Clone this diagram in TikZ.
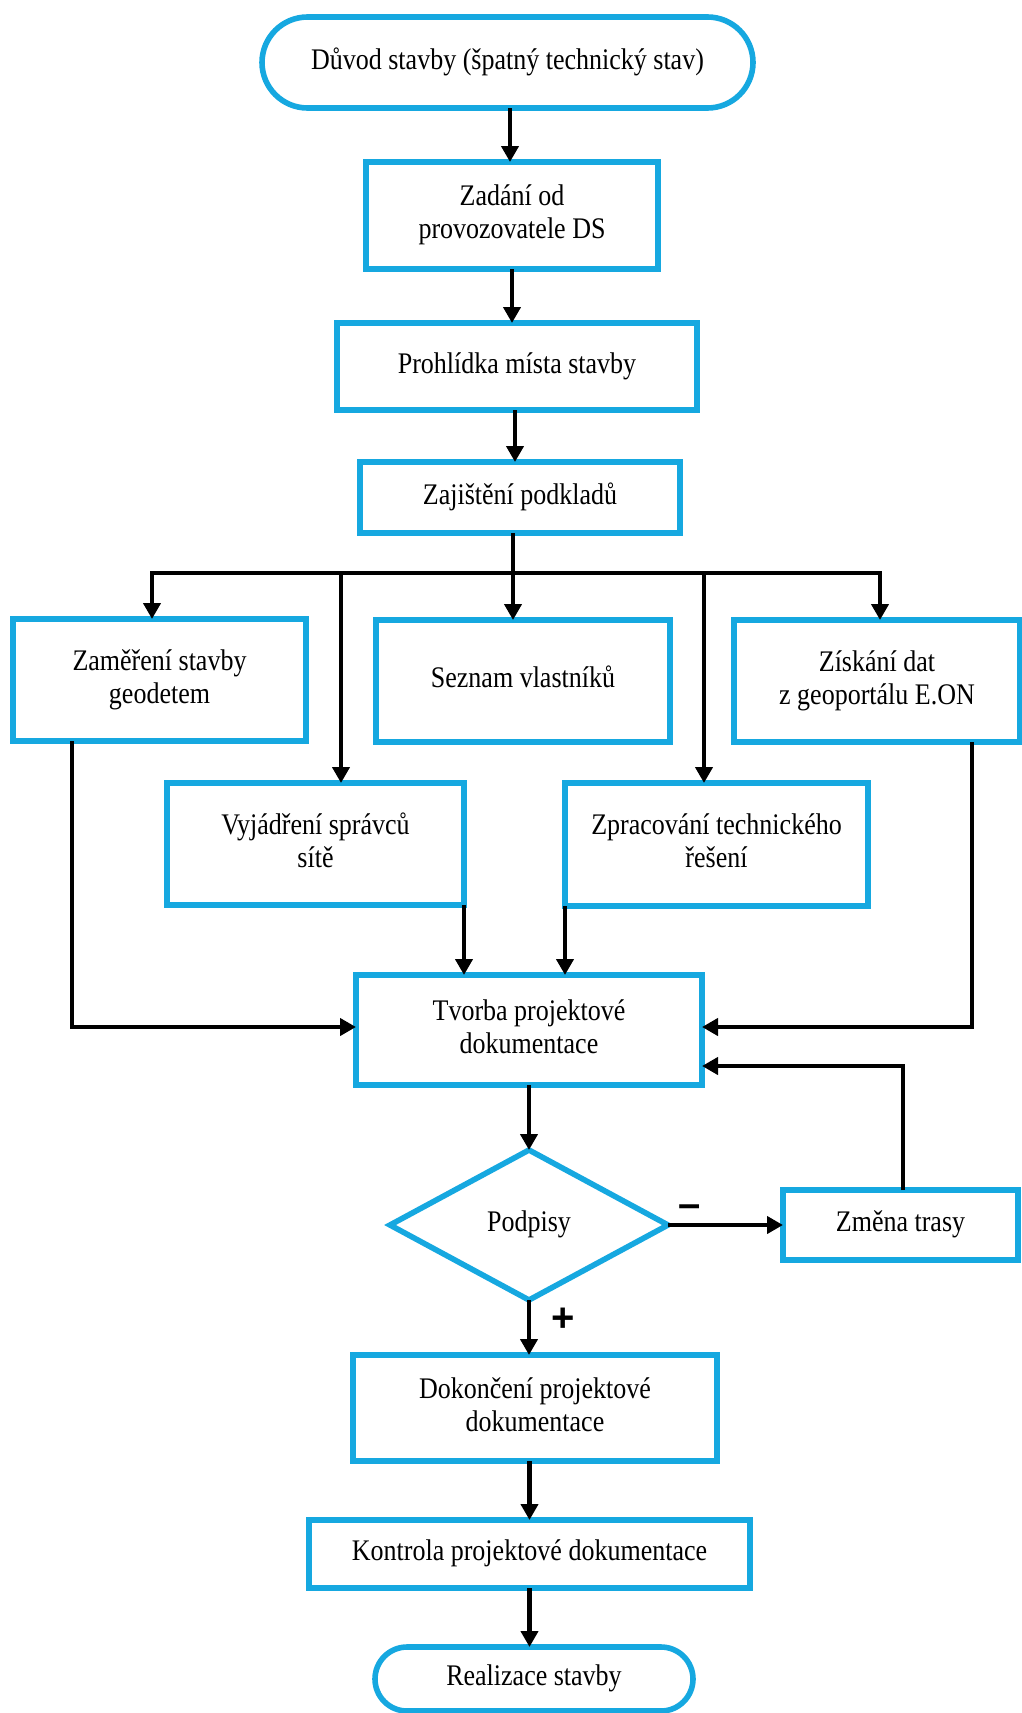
\documentclass[tikz,border=0pt]{standalone}
\usepackage{fontspec}
\usepackage{graphicx}
\setmainfont{Liberation Serif}
\newfontfamily\signfont{Liberation Sans}
\usetikzlibrary{arrows.meta,shapes.geometric}
\definecolor{flowblue}{RGB}{22,168,224}
\newcommand{\stretchtxt}[1]{\scalebox{1}[1.15]{\begin{tabular}{@{}c@{}}#1\end{tabular}}}
\tikzset{
  box/.style={draw=flowblue, line width=2.8pt, fill=white, inner sep=0pt, outer sep=0pt,
    align=center, font=\fontsize{13}{14.5}\selectfont},
  term/.style={box, rounded corners=#1},
  dec/.style={box, diamond},
  arr/.style={line width=2.3pt, -{Triangle[length=8pt,width=8.5pt]}},
  ln/.style={line width=2.3pt},
  sign/.style={font=\signfont\bfseries\fontsize{20}{20}\selectfont, inner sep=0pt, anchor=base}
}
\begin{document}
\begin{tikzpicture}[x=0.5pt,y=-0.5pt]
\useasboundingbox (0,0) rectangle (1022,1713);
% nodes
\node[term=22.75pt, minimum width=245.5pt, minimum height=45.5pt] (start) at (507.5,62.5) {\stretchtxt{Důvod stavby (špatný technický stav)}};
\node[box, minimum width=146pt, minimum height=53.5pt] (zadani) at (512,215.5) {\stretchtxt{Zadání od\\provozovatele DS}};
\node[box, minimum width=180pt, minimum height=43.5pt] (prohlidka) at (517,366.5) {\stretchtxt{Prohlídka místa stavby}};
\node[box, minimum width=160pt, minimum height=35.5pt] (zajisteni) at (520,497.5) {\stretchtxt{Zajištění podkladů}};
\node[box, minimum width=146.5pt, minimum height=61pt] (zamereni) at (159.5,680) {\stretchtxt{Zaměření stavby\\geodetem}};
\node[box, minimum width=147pt, minimum height=61pt] (seznam) at (523,681) {\stretchtxt{Seznam vlastníků}};
\node[box, minimum width=143pt, minimum height=61pt] (ziskani) at (877,681) {\stretchtxt{Získání dat\\z geoportálu E.ON}};
\node[box, minimum width=148.5pt, minimum height=61pt] (vyjadreni) at (315.5,844) {\stretchtxt{Vyjádření správců\\sítě}};
\node[box, minimum width=151.5pt, minimum height=61.5pt] (zpracovani) at (716.5,844.5) {\stretchtxt{Zpracování technického\\řešení}};
\node[box, minimum width=173pt, minimum height=55pt] (tvorba) at (529,1030) {\stretchtxt{Tvorba projektové\\dokumentace}};
\node[dec, minimum width=139pt, minimum height=75pt] (podpisy) at (529,1225) {\stretchtxt{Podpisy}};
\node[box, minimum width=117.5pt, minimum height=35pt] (zmena) at (900.5,1225) {\stretchtxt{Změna trasy}};
\node[box, minimum width=182pt, minimum height=53pt] (dokonceni) at (535,1408) {\stretchtxt{Dokončení projektové\\dokumentace}};
\node[box, minimum width=220.5pt, minimum height=34pt] (kontrola) at (529.5,1554) {\stretchtxt{Kontrola projektové dokumentace}};
\node[term=16pt, minimum width=159pt, minimum height=32pt] (realizace) at (534,1679) {\stretchtxt{Realizace stavby}};
% helper coordinates
\coordinate (bL) at (152,573);
\coordinate (b2) at (341,573);
\coordinate (bus) at (513,573);
\coordinate (b4) at (704,573);
\coordinate (bR) at (880,573);
\coordinate (zl) at (72,1027);
\coordinate (zr) at (972,1027);
\coordinate (fb) at (903,1066);
% connectors
\draw[arr] (start.south -| 510,0) -- (510,0 |- zadani.north);
\draw[arr] (zadani.south) -- (zadani.south |- prohlidka.north);
\draw[arr] (prohlidka.south -| 515,0) -- (515,0 |- zajisteni.north);
\draw[ln] (zajisteni.south -| bus) -- (bus);
\draw[arr] (bus) -- (bL) -- (bL |- zamereni.north);
\draw[arr] (bus) -- (bR) -- (bR |- ziskani.north);
\draw[arr] (bus) -- (bus |- seznam.north);
\draw[arr] (b2) -- (b2 |- vyjadreni.north);
\draw[arr] (b4) -- (b4 |- zpracovani.north);
\draw[arr] (zamereni.south -| zl) -- (zl) -- (zl -| tvorba.west);
\draw[arr] (ziskani.south -| zr) -- (zr) -- (zr -| tvorba.east);
\draw[arr] (vyjadreni.south east) -- (vyjadreni.south east |- tvorba.north);
\draw[arr] (zpracovani.south west) -- (zpracovani.south west |- tvorba.north);
\draw[arr] (tvorba.south -| podpisy.north) -- (podpisy.north);
\draw[arr] (podpisy.east) -- (zmena.west);
\draw[arr] (zmena.north -| fb) -- (fb) -- (fb -| tvorba.east);
\draw[arr] (podpisy.south) -- (podpisy.south |- dokonceni.north);
\draw[arr] (dokonceni.south -| kontrola.north) -- (kontrola.north);
\draw[arr] (kontrola.south) -- (kontrola.south |- realizace.north);
% labels
\node[sign] (minus) at (690,1217) {–};
\node[sign] (plus) at (563,1331) {+};
\end{tikzpicture}
\end{document}
